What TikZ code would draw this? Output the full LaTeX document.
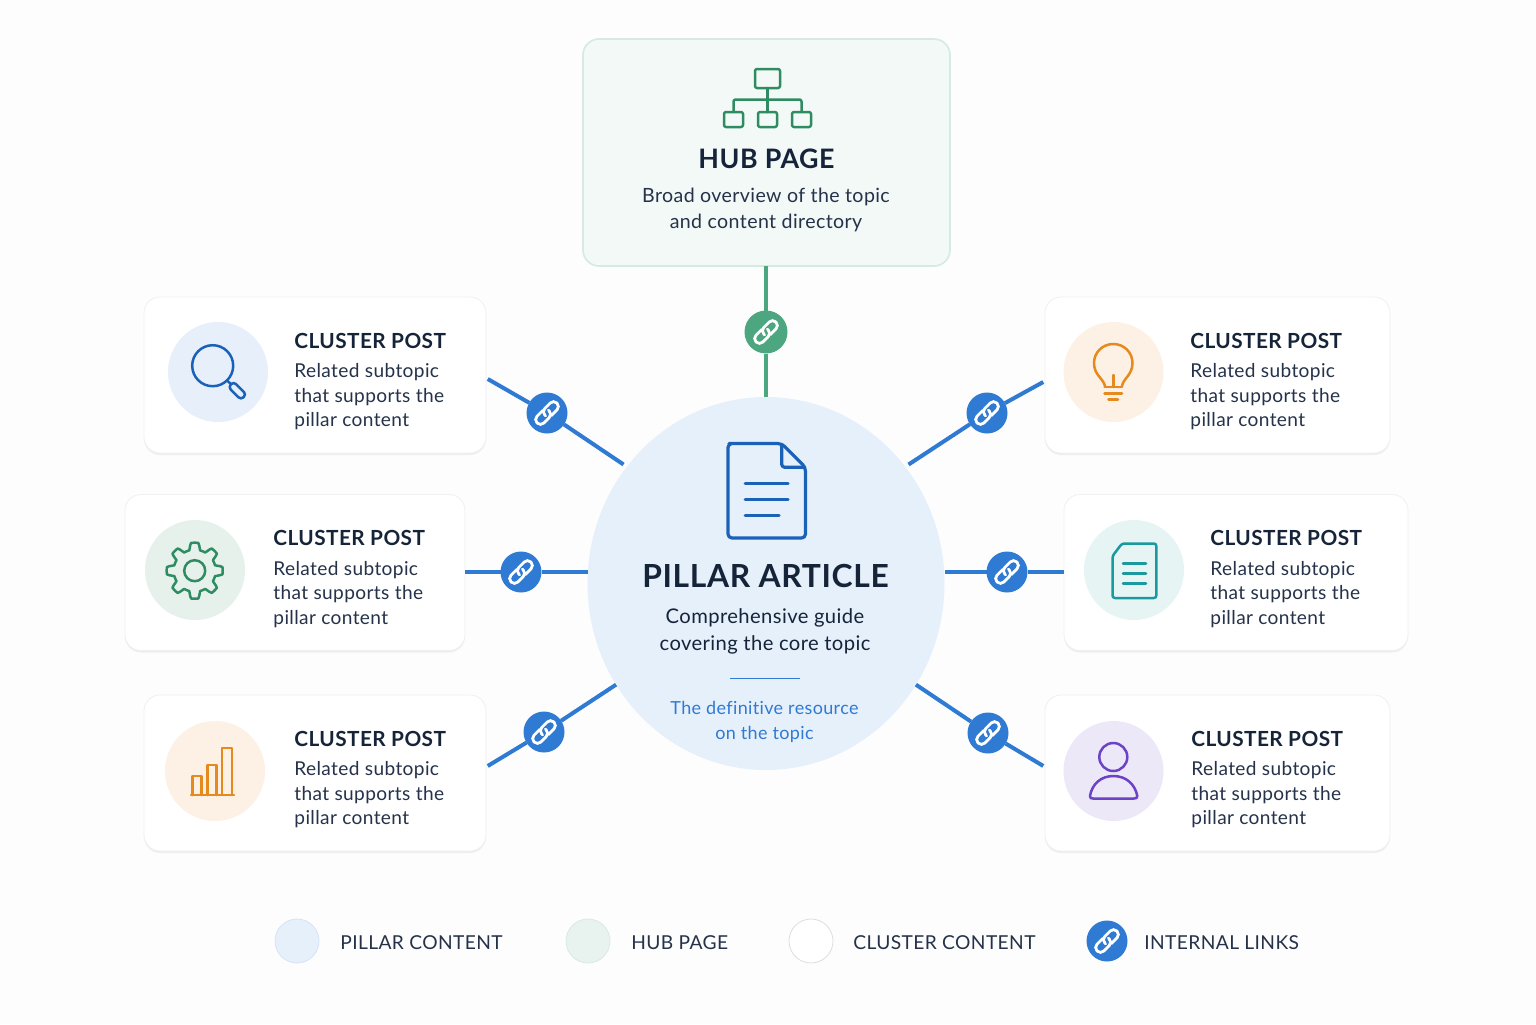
\documentclass[tikz,border=0pt]{standalone}
\usepackage{fontspec}
\setmainfont{Lato}[LetterSpace=2, Ligatures=NoCommon]
\usetikzlibrary{shapes.geometric, shadows}
\definecolor{inkdark}{HTML}{16243A}
\definecolor{inkbody}{HTML}{25324A}
\definecolor{linkblue}{HTML}{2F7AD3}
\definecolor{linkgreen}{HTML}{4CA67F}
\definecolor{deepblue}{HTML}{1A62B8}
\definecolor{deepgreen}{HTML}{2F8C62}
\definecolor{deeporange}{HTML}{E68A1E}
\definecolor{deepteal}{HTML}{1A9A9E}
\definecolor{deeppurple}{HTML}{6C42C6}
\definecolor{pillarfill}{HTML}{E6F0FB}
\definecolor{hubfill}{HTML}{F2F9F6}
\definecolor{hubedge}{HTML}{D5EAE0}
\tikzset{
  card/.style={draw=black!6, fill=white, rounded corners=8pt, inner sep=0, outer sep=0, minimum height=78pt,
    drop shadow={shadow xshift=0pt, shadow yshift=-1pt, opacity=.06, fill=black}},
  iconbg/.style={circle, inner sep=0, outer sep=0, minimum size=50pt},
  icon/.style={line width=1.25pt, line join=round, line cap=round},
  posttitle/.style={anchor=west, inner sep=0, text=inkdark, font=\fontsize{10.4}{13}\selectfont\bfseries},
  posttext/.style={anchor=west, inner sep=0, align=left, text=inkbody, font=\fontsize{9.55}{12.25}\selectfont},
  linkdot/.style={circle, fill=linkblue, inner sep=0, outer sep=0, minimum size=20.5pt},
  linkline/.style={draw=linkblue, line width=2pt},
  legendtext/.style={anchor=west, inner sep=0, text=inkbody, font=\fontsize{9.6}{12}\selectfont},
  chainicon/.pic={
    \begin{scope}[rotate=45, white, line width=1.4pt, line cap=round]
      \draw[rounded corners=2.3pt] (-1,-4.8) -- (-14,-4.8) -- (-14,4.8) -- (3,4.8) -- (3,-1);
      \draw[rounded corners=2.3pt] (1,4.8) -- (14,4.8) -- (14,-4.8) -- (-3,-4.8) -- (-3,1);
    \end{scope}
  }
}
\begin{document}
\begin{tikzpicture}[x=0.5pt, y=-0.5pt]
      \useasboundingbox[fill=black!0.6!white] (0,0) rectangle (1536,1024);

      \node[draw=hubedge, fill=hubfill, line width=0.8pt, rounded corners=8pt, inner sep=0, outer sep=0, minimum width=183.5pt, minimum height=113.5pt] (hub) at (766.5,152.5) {};
      \node[ellipse, fill=pillarfill, inner sep=0, outer sep=0, minimum width=178.5pt, minimum height=186.5pt] (pillar) at (766,583.5) {};

      \node[card, minimum width=171pt] (search) at (315,375) {};
      \node[card, minimum width=170pt] (gear) at (295,572.5) {};
      \node[card, minimum width=171pt] (bars) at (315,773) {};
      \node[card, minimum width=172.5pt] (bulb) at (1217.5,375) {};
      \node[card, minimum width=172pt] (page) at (1236,572.5) {};
      \node[card, minimum width=172.5pt] (user) at (1217.5,773) {};

      \node[linkdot, fill=linkgreen, minimum size=21.5pt] (linkhub) at (766,332) {};
      \node[linkdot] (linksearch) at (547,413) {};
      \node[linkdot] (linkgear) at (521,572) {};
      \node[linkdot] (linkbars) at (544,732) {};
      \node[linkdot] (linkbulb) at (987,413) {};
      \node[linkdot] (linkpage) at (1007,572) {};
      \node[linkdot] (linkuser) at (988,733) {};

      \path (hub.south -| linkhub) edge[linkline, draw=linkgreen] (linkhub);
      \path (linkhub) edge[linkline, draw=linkgreen] (pillar.north);
      \path (search.359) edge[linkline, shorten <=1pt] (linksearch);
      \path (linksearch) edge[linkline, shorten >=2pt] (pillar.140);
      \path (gear.east |- linkgear) edge[linkline] (linkgear);
      \path (linkgear) edge[linkline] (pillar.west |- linkgear);
      \path (bars.2) edge[linkline, shorten <=1pt] (linkbars);
      \path (linkbars) edge[linkline] (pillar.214.3);
      \path (bulb.182) edge[linkline, shorten <=1pt] (linkbulb);
      \path (linkbulb) edge[linkline, shorten >=2pt] (pillar.40);
      \path (page.west |- linkpage) edge[linkline] (linkpage);
      \path (linkpage) edge[linkline] (pillar.east |- linkpage);
      \path (user.178) edge[linkline, shorten <=1pt] (linkuser);
      \path (linkuser) edge[linkline] (pillar.-34.5);

      \pic at (linkhub) {chainicon};
      \pic at (linksearch) {chainicon};
      \pic at (linkgear) {chainicon};
      \pic at (linkbars) {chainicon};
      \pic at (linkbulb) {chainicon};
      \pic at (linkpage) {chainicon};
      \pic at (linkuser) {chainicon};

      % hub icon
      \draw[icon, deepgreen, rounded corners=1pt] (755,69) rectangle (780,88);
      \draw[icon, deepgreen, rounded corners=1pt] (724,112) rectangle (743,127);
      \draw[icon, deepgreen, rounded corners=1pt] (758,112) rectangle (777,127);
      \draw[icon, deepgreen, rounded corners=1pt] (792,112) rectangle (811,127);
      \draw[icon, deepgreen] (767.5,88) -- (767.5,112);
      \draw[icon, deepgreen, rounded corners=1pt] (733.5,112) -- (733.5,99.5) -- (801.5,99.5) -- (801.5,112);
      \node[inner sep=0, text=inkdark, font=\fontsize{13.4}{16}\selectfont\bfseries] (hubname) at (766.5,158.5) {HUB PAGE};
      \node[inner sep=0, align=center, text=inkbody, font=\fontsize{9.8}{13}\selectfont] (hubtext) at (766,209.5) {Broad overview of the topic\\and content directory};

      % pillar icon
      \draw[deepblue, line width=1.6pt, line join=round, rounded corners=2pt] (781.7,443.5) -- (733,443.5) -- (728,443.5) -- (728,538) -- (805.5,538) -- (805.5,467.3) -- cycle;
      \draw[deepblue, line width=1.6pt, line join=round, rounded corners=1.5pt] (781.7,443.5) -- (781.7,467.3) -- (805.5,467.3);
      \draw[deepblue, line width=1.5pt, line cap=round] (745,483.5) -- (788,483.5);
      \draw[deepblue, line width=1.5pt, line cap=round] (745,499.5) -- (788,499.5);
      \draw[deepblue, line width=1.5pt, line cap=round] (745,515) -- (779,515);
      \node[inner sep=0, text=inkdark, font=\fontsize{15.9}{20}\selectfont\bfseries] (pillarname) at (765.5,576) {PILLAR ARTICLE};
      \node[inner sep=0, align=center, text=inkdark, font=\fontsize{10.1}{13.5}\selectfont] (pillartext) at (765,631) {Comprehensive guide\\covering the core topic};
      \draw[linkblue, line width=0.8pt] (730,678.5) -- (800,678.5);
      \node[inner sep=0, align=center, text=linkblue, font=\fontsize{9}{12.25}\selectfont] (pillarnote) at (764.5,722) {The definitive resource\\on the topic};

      % top left
      \node[iconbg, fill=linkblue!12] (searchbg) at (218,372) {};
      \draw[icon, deepblue] (212.7,365.7) circle (20.5);
      \draw[icon, deepblue] (227.5,381) -- (231,384);
      \begin{scope}[shift={(237.3,390.7)}, rotate=-45]
        \draw[icon, deepblue, rounded corners=1.7pt] (-9,-3.8) rectangle (9,3.8);
      \end{scope}
      \node[posttitle] (searchname) at (294,341) {CLUSTER POST};
      \node[posttext] (searchtext) at (294,397) {Related subtopic\\that supports the\\pillar content};

      % middle left
      \node[iconbg, fill=deepgreen!12] (gearbg) at (195,570) {};
      \draw[icon, deepgreen] (194.7,570.7) circle (10.5);
      \begin{scope}[shift={(194.7,570.7)}]
        \draw[icon, deepgreen] plot[domain=0:360, samples=145] (\x:{24.5+3.5*max(-1,min(1,2.2*cos(8*\x)))});
      \end{scope}
      \node[posttitle] (gearname) at (273,538) {CLUSTER POST};
      \node[posttext] (geartext) at (273,594.5) {Related subtopic\\that supports the\\pillar content};

      % bottom left
      \node[iconbg, fill=deeporange!12] (barsbg) at (215,771) {};
      \draw[icon, deeporange] (192.7,795) -- (192.7,776) -- (201.7,776) -- (201.7,795);
      \draw[icon, deeporange] (207.7,795) -- (207.7,765) -- (216.5,765) -- (216.5,795);
      \draw[icon, deeporange] (222,795) -- (222,748) -- (232,748) -- (232,795);
      \draw[icon, deeporange] (191,795) -- (234,795);
      \node[posttitle] (barsname) at (294,739) {CLUSTER POST};
      \node[posttext] (barstext) at (294,795) {Related subtopic\\that supports the\\pillar content};

      % top right
      \node[iconbg, fill=deeporange!12] (bulbbg) at (1113.5,372) {};
      \draw[icon, deeporange] (1105,386) .. controls (1103,378) and (1094,375) .. (1094,363) .. controls (1094,352.5) and (1102.5,344) .. (1113.3,344) .. controls (1124,344) and (1132.5,352.5) .. (1132.5,363) .. controls (1132.5,375) and (1123.5,378) .. (1122,386);
      \draw[icon, deeporange] (1113.3,375) -- (1113.3,387);
      \draw[icon, deeporange] (1104.5,387) -- (1122,387);
      \draw[icon, deeporange] (1104.5,393.5) -- (1122,393.5);
      \draw[icon, deeporange] (1108.5,399.5) -- (1118,399.5);
      \node[posttitle] (bulbname) at (1190,341) {CLUSTER POST};
      \node[posttext] (bulbtext) at (1190,397) {Related subtopic\\that supports the\\pillar content};

      % middle right
      \node[iconbg, fill=deepteal!11] (pagebg) at (1134,570) {};
      \draw[icon, deepteal, rounded corners=1.2pt] (1122,543.5) -- (1156.3,543.5) -- (1156.3,598) -- (1112.5,598) -- (1112.5,556) -- cycle;
      \draw[icon, deepteal] (1123,563.5) -- (1146,563.5);
      \draw[icon, deepteal] (1123,573.5) -- (1146,573.5);
      \draw[icon, deepteal] (1123,583.5) -- (1146,583.5);
      \node[posttitle] (pagename) at (1210,538) {CLUSTER POST};
      \node[posttext] (pagetext) at (1210,594.5) {Related subtopic\\that supports the\\pillar content};

      % bottom right
      \node[iconbg, fill=deeppurple!12] (userbg) at (1113.5,771) {};
      \draw[icon, deeppurple] (1113.3,757) circle (14);
      \draw[icon, deeppurple] (1090,796) .. controls (1092,784) and (1101,776) .. (1113.3,776) .. controls (1126,776) and (1135,784) .. (1137.3,796) .. controls (1137.5,798) and (1136,798.5) .. (1134,798.5) -- (1093,798.5) .. controls (1091,798.5) and (1089.7,798) .. (1090,796) -- cycle;
      \node[posttitle] (username) at (1191,739) {CLUSTER POST};
      \node[posttext] (usertext) at (1191,795) {Related subtopic\\that supports the\\pillar content};

      % legend
      \node[circle, draw=linkblue!20, fill=pillarfill, inner sep=0, minimum size=22pt] (keypillar) at (297,941) {};
      \node[legendtext] (keypillarname) at (340,942.5) {PILLAR CONTENT};
      \node[circle, draw=deepgreen!18, fill=deepgreen!11, inner sep=0, minimum size=22pt] (keyhub) at (588,941) {};
      \node[legendtext] (keyhubname) at (631,942.5) {HUB PAGE};
      \node[circle, draw=black!13, fill=white, inner sep=0, minimum size=22pt] (keycluster) at (811,941) {};
      \node[legendtext] (keyclustername) at (853,942.5) {CLUSTER CONTENT};
      \node[linkdot] (keylink) at (1107,941) {};
      \pic at (keylink) {chainicon};
      \node[legendtext] (keylinkname) at (1144,942.5) {INTERNAL LINKS};
    \end{tikzpicture}
\end{document}
